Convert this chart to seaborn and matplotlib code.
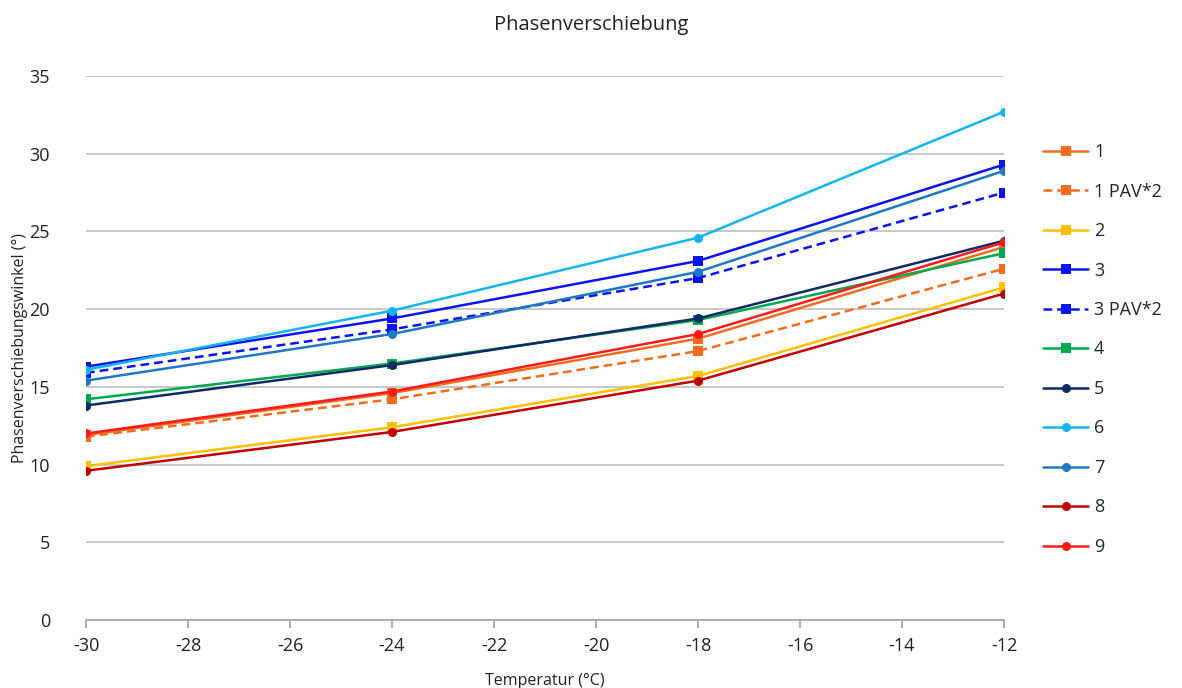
import numpy as np
import pandas as pd
import matplotlib
matplotlib.use("Agg")
import matplotlib.pyplot as plt
import seaborn as sns

temperatures = [-30, -24, -18, -12]
series_names = ["1", "1 PAV*2", "2", "3", "3 PAV*2", "4", "5", "6", "7", "8", "9"]
s1 = [11.9, 14.6, 18.1, 24.0]
s1_pav = [11.8, 14.2, 17.3, 22.6]
s2 = [9.9, 12.4, 15.7, 21.4]
s3 = [16.3, 19.4, 23.1, 29.3]
s3_pav = [15.9, 18.7, 22.0, 27.5]
s4 = [14.2, 16.5, 19.3, 23.6]
s5 = [13.8, 16.4, 19.4, 24.4]
s6 = [16.1, 19.9, 24.6, 32.7]
s7 = [15.4, 18.4, 22.4, 28.9]
s8 = [9.6, 12.1, 15.4, 21.0]
s9 = [12.0, 14.7, 18.4, 24.3]
values = [s1, s1_pav, s2, s3, s3_pav, s4, s5, s6, s7, s8, s9]

colors = {"1": "#f26c1f", "1 PAV*2": "#f26c1f", "2": "#ffc000", "3": "#0a14f0",
          "3 PAV*2": "#0a14f0", "4": "#00a850", "5": "#0e2a66", "6": "#14b4f0",
          "7": "#1f78c4", "8": "#c00000", "9": "#ff1a1a"}
markers = {n: ("s" if i < 6 else "o") for i, n in enumerate(series_names)}
dashes = {n: ((3.5, 2) if "PAV" in n else "") for n in series_names}

rows = []
for n, v in zip(series_names, values):
    for t, y in zip(temperatures, v):
        rows.append({"Temperatur": t, "Wert": y, "Serie": n})
df = pd.DataFrame(rows)

sns.set_theme(style="white")
plt.rcParams['font.family'] = ['Open Sans', 'DejaVu Sans']
plt.rcParams['axes.unicode_minus'] = False

fig = plt.figure(figsize=(11.82, 6.88), dpi=100)
ax = fig.add_axes([86/1182, 1-620/688, (1004-86)/1182, (620-76)/688])

sns.lineplot(data=df, x="Temperatur", y="Wert", hue="Serie", style="Serie",
             hue_order=series_names, style_order=series_names,
             palette=colors, markers=markers, dashes=dashes,
             markersize=6.5, markeredgewidth=0, linewidth=1.8, ax=ax, legend=True)

ax.set_xlim(-30, -12)
ax.set_ylim(0, 35)
ax.set_xticks(np.arange(-30, -11, 2))
ax.set_yticks(np.arange(0, 36, 5))
ax.yaxis.grid(True, color="#bfbfbf", linewidth=1.2)
ax.set_axisbelow(True)
for sp in ["left", "top", "right"]:
    ax.spines[sp].set_visible(False)
ax.spines["bottom"].set_color("#a6a6a6")
ax.spines["bottom"].set_linewidth(1.2)
ax.tick_params(axis="x", which="both", bottom=True, length=6, width=1.2, color="#a6a6a6",
               labelsize=13, pad=6, labelcolor="#222222")
ax.tick_params(axis="y", length=0, labelsize=13, pad=26, labelcolor="#222222")

ax.set_xlabel("Temperatur (°C)", fontsize=11.5, labelpad=5, color="#222222")
ax.set_ylabel("Phasenverschiebungswinkel (°)", fontsize=11.5, labelpad=6, color="#222222")
ax.yaxis.set_label_coords(-0.063, 0.5)
ax.xaxis.set_label_coords(0.5, -0.098)
fig.suptitle("Phasenverschiebung", x=0.5, y=0.978, fontsize=14.5, color="#222222")

handles, labels = ax.get_legend_handles_labels()
leg = ax.legend(handles, labels, loc="upper left", bbox_to_anchor=(1.035, 0.89),
                frameon=False, fontsize=13, handlelength=2.5, labelspacing=1.19,
                handletextpad=0.3, borderaxespad=0)

fig.savefig("out.png", dpi=100)
